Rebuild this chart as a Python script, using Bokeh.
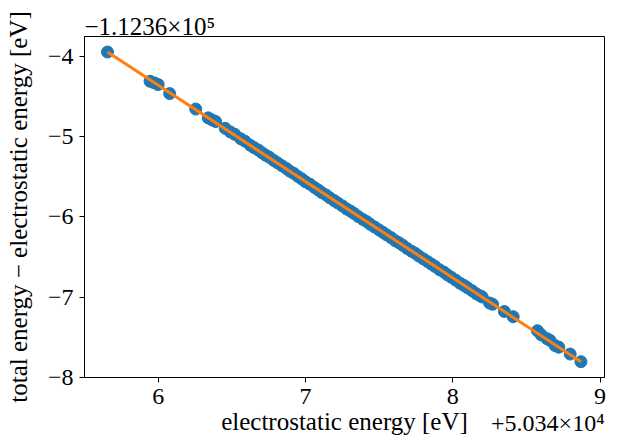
from bokeh.plotting import figure
from bokeh.models import Range1d, FixedTicker, Title
from bokeh.embed import file_html
from bokeh.resources import INLINE

# electrostatic energy minus 50340 eV
x_es = [5.656, 5.945, 5.975, 6.000, 6.078, 6.255, 6.340, 6.365, 6.390, 6.455,
        6.490, 6.520, 6.560, 6.590, 6.625, 6.650, 6.680, 6.705, 6.730, 6.755,
        6.785, 6.810, 6.840, 6.870, 6.895, 6.920, 6.950, 6.975, 7.000, 7.030,
        7.060, 7.085, 7.110, 7.140, 7.165, 7.195, 7.220, 7.250, 7.280, 7.305,
        7.330, 7.360, 7.390, 7.415, 7.440, 7.470, 7.500, 7.525, 7.550, 7.580,
        7.610, 7.635, 7.660, 7.690, 7.720, 7.745, 7.770, 7.800, 7.830, 7.855,
        7.880, 7.910, 7.940, 7.965, 7.990, 8.020, 8.050, 8.075, 8.100, 8.130,
        8.160, 8.185, 8.200, 8.250, 8.270, 8.350, 8.410, 8.575, 8.600, 8.640,
        8.660, 8.695, 8.720, 8.797, 8.870]
# total energy minus electrostatic energy, minus (-112360) eV
y_diff = [-3.950, -4.315, -4.335, -4.355, -4.468, -4.660, -4.770, -4.795, -4.815, -4.900,
          -4.945, -4.975, -5.030, -5.060, -5.110, -5.140, -5.170, -5.205, -5.235, -5.260,
          -5.300, -5.330, -5.365, -5.400, -5.435, -5.460, -5.500, -5.530, -5.565, -5.595,
          -5.635, -5.665, -5.700, -5.730, -5.765, -5.800, -5.830, -5.865, -5.905, -5.930,
          -5.960, -6.000, -6.035, -6.060, -6.095, -6.130, -6.165, -6.195, -6.225, -6.260,
          -6.300, -6.325, -6.355, -6.395, -6.430, -6.455, -6.490, -6.525, -6.560, -6.590,
          -6.620, -6.660, -6.690, -6.725, -6.755, -6.790, -6.830, -6.855, -6.885, -6.920,
          -6.960, -6.985, -7.000, -7.075, -7.090, -7.180, -7.245, -7.420, -7.470, -7.520,
          -7.540, -7.605, -7.625, -7.710, -7.805]

# linear fit drawn between the extreme points
fit_x = [5.656, 8.870]
fit_y = [-3.950, -7.805]

x_ticks = [6, 7, 8, 9]
y_ticks = [-8, -7, -6, -5, -4]
x_offset_text = "+5.034×10⁴"
y_offset_text = "−1.1236×10⁵"

FONT = "Liberation Serif"

p = figure(width=610, height=437, output_backend="svg", toolbar_location=None,
           x_range=Range1d(5.50, 9.03), y_range=Range1d(-8.002, -3.757),
           min_border_left=84, min_border_right=6, min_border_top=36, min_border_bottom=59)
p.background_fill_color = "white"
p.border_fill_color = "white"
p.outline_line_color = "black"
p.outline_line_width = 1
p.xgrid.visible = False
p.ygrid.visible = False

p.title = Title(text=y_offset_text, align="left", text_font=FONT, text_font_size="25px",
                text_font_style="normal", text_color="black", standoff=-6, offset=0)

p.scatter(x_es, y_diff, size=12, fill_color="#1f77b4", line_color="#1f77b4")
p.line(fit_x, fit_y, line_color="#ff7f0e", line_width=3)

for ax, ticks in ((p.xaxis[0], x_ticks), (p.yaxis[0], y_ticks)):
    ax.ticker = FixedTicker(ticks=ticks)
    ax.major_label_overrides = {t: str(t).replace("-", "−") for t in ticks}
    ax.minor_tick_line_color = None
    ax.major_tick_in = 0
    ax.major_tick_out = 5
    ax.axis_line_color = "black"
    ax.major_tick_line_color = "black"
    ax.major_label_text_font = FONT
    ax.major_label_text_font_size = "24px"
    ax.major_label_text_color = "black"
    ax.axis_label_text_font = FONT
    ax.axis_label_text_font_size = "25px"
    ax.axis_label_text_font_style = "normal"
    ax.axis_label_text_color = "black"
    ax.major_label_standoff = 6

p.xaxis.axis_label = "electrostatic energy [eV]"
p.yaxis.axis_label = "total energy − electrostatic energy [eV]"
p.xaxis.axis_label_standoff = 1
p.yaxis.axis_label_standoff = 13

p.add_layout(Title(text=x_offset_text, align="right", vertical_align="top", text_font=FONT,
                   text_font_size="24px", text_font_style="normal", text_color="black",
                   standoff=-56, offset=0),
             "below")

open("out.html", "w").write(file_html(p, INLINE))
